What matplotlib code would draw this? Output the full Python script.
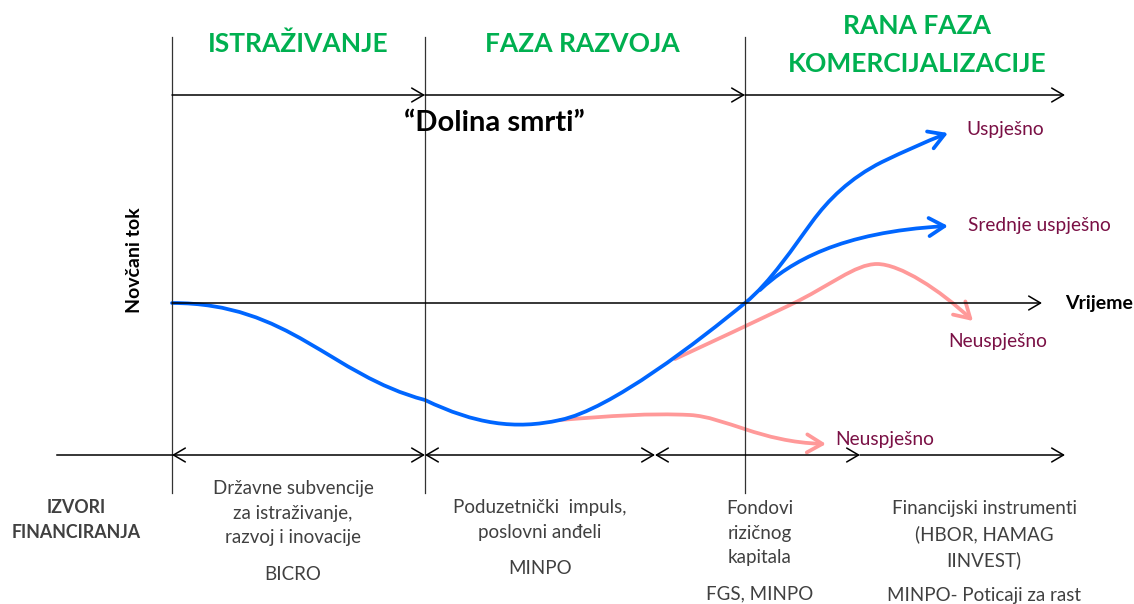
import matplotlib
matplotlib.use("Agg")
import matplotlib.pyplot as plt
from matplotlib.path import Path
from matplotlib.patches import FancyArrowPatch

plt.rcParams['font.family'] = ['Lato', 'DejaVu Sans']

# === DIAGRAM DATA (picture pixel space, y down) ===
phase_x = [172, 425, 745]                 # vertical phase dividers
phase_titles = ["ISTRAŽIVANJE", "FAZA RAZVOJA", "RANA FAZA\nKOMERCIJALIZACIJE"]
phase_title_pos = [(298, 44), (582, 44), (917, 45)]

top_arrow_x = [172, 425, 745, 1065]       # "Dolina smrti" timeline
time_axis = (172, 1042)                   # Vrijeme axis
funding_x = [172, 425, 655, 860, 1065]    # double arrows for funding sources

# Bezier control points (start, c1, c2, end, c1, c2, end, ...)
blue_main = [(172, 303), (290, 303), (330, 375), (425, 400),
             (475, 424), (515, 430), (560, 420),
             (610, 410), (700, 340), (745, 303),
             (770, 283), (795, 245), (812, 222),
             (828, 200), (850, 178), (882, 162),
             (905, 151), (925, 142), (948, 133)]
blue_mid = [(760, 290), (790, 262), (840, 232), (948, 226)]
pink_low = [(560, 420), (610, 416), (650, 413), (690, 415),
            (725, 417), (760, 442), (826, 444)]
pink_high = [(675, 359), (716, 340), (752, 323), (790, 305),
             (830, 286), (855, 264), (877, 264),
             (900, 264), (940, 290), (973, 321)]

outcomes = ["Uspješno", "Srednje uspješno", "Neuspješno", "Neuspješno"]
outcome_pos = [(966, 129), (968, 226), (948, 342), (835, 439)]

funding_text = ["Državne subvencije\nza istraživanje,\nrazvoj i inovacije",
                "Poduzetnički  impuls,\nposlovni anđeli",
                "Fondovi\nrizičnog\nkapitala",
                "Financijski instrumenti\n(HBOR, HAMAG\nIINVEST)"]
funding_text_pos = [(293, 513), (540, 520), (760, 533), (984, 535)]
funding_bodies = ["BICRO", "MINPO", "FGS, MINPO", "MINPO- Poticaji za rast"]
funding_body_pos = [(293, 575), (540, 568), (760, 594), (984, 596)]

GREEN = "#00B050"
BLUE = "#0066FF"
PINK = "#FF9999"
MAROON = "#7A1045"
GRAY = "#404040"

fig = plt.figure(figsize=(11.34, 6.04), dpi=100)
ax = fig.add_axes([0, 0, 1, 1])
ax.set_xlim(0, 1134)
ax.set_ylim(604, 0)
ax.axis("off")

# phase dividers and titles
for x in phase_x:
    ax.plot([x, x], [37, 493], color="#333333", lw=0.9)
for title, (x, y) in zip(phase_titles, phase_title_pos):
    ax.text(x, y, title, color=GREEN, fontsize=19, fontweight="bold",
            ha="center", va="center", linespacing=1.65)

black_head = "->, head_length=0.85, head_width=0.5"
for x0, x1 in zip(top_arrow_x[:-1], top_arrow_x[1:]):
    ax.annotate("", xy=(x1, 95), xytext=(x0, 95),
                arrowprops=dict(arrowstyle=black_head, color="black", lw=1.1,
                                shrinkA=0, shrinkB=0))
ax.text(494, 123, "“Dolina smrti”", fontsize=21, fontweight="bold",
        ha="center", va="center")

# axes
ax.annotate("", xy=(time_axis[1], 303), xytext=(time_axis[0], 303),
            arrowprops=dict(arrowstyle=black_head, color="black", lw=1.1,
                            shrinkA=0, shrinkB=0))
ax.text(1065, 303, "Vrijeme", fontsize=14, fontweight="bold", ha="left", va="center")
ax.text(135, 260, "Novčani tok", fontsize=14, fontweight="bold", rotation=90,
        ha="center", va="center")

ax.plot([57, funding_x[0]], [455, 455], color="black", lw=1.1)
for i, (x0, x1) in enumerate(zip(funding_x[:-1], funding_x[1:])):
    style = black_head.replace("->", "<->") if i < len(funding_x) - 2 else black_head
    ax.annotate("", xy=(x1, 455), xytext=(x0, 455),
                arrowprops=dict(arrowstyle=style, color="black", lw=1.1,
                                shrinkA=0, shrinkB=0))


def curve(points, color):
    codes = [Path.MOVETO] + [Path.CURVE4] * (len(points) - 1)
    patch = FancyArrowPatch(path=Path(points, codes),
                            arrowstyle="->, head_length=1.1, head_width=0.65",
                            color=color, lw=2.7, mutation_scale=10,
                            capstyle="round", joinstyle="round")
    ax.add_patch(patch)


curve(pink_low, PINK)
curve(pink_high, PINK)
curve(blue_main, BLUE)
curve(blue_mid, BLUE)

for label, (x, y) in zip(outcomes, outcome_pos):
    ax.text(x, y, label, color=MAROON, fontsize=13.8, ha="left", va="center")

# funding sources
ax.text(76, 520, "IZVORI\nFINANCIRANJA", color=GRAY, fontsize=12.8, fontweight="bold",
        ha="center", va="center", linespacing=1.6)
for txt, (x, y) in zip(funding_text, funding_text_pos):
    ax.text(x, y, txt, color=GRAY, fontsize=13.5, ha="center", va="center",
            linespacing=1.55)
for txt, (x, y) in zip(funding_bodies, funding_body_pos):
    ax.text(x, y, txt, color=GRAY, fontsize=13.5, ha="center", va="center")

fig.savefig("out.png", dpi=100)
